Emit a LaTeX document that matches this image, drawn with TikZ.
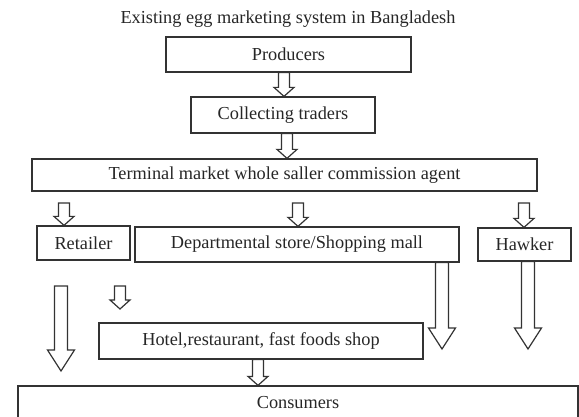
\documentclass[tikz,border=0pt]{standalone}
\usepackage{fontspec}
\setmainfont{Liberation Serif}
\usetikzlibrary{calc}

% hollow block arrow pointing down: top point, tip point, shaft half width, head half width, head length
\newcommand{\flowarrow}[5]{%
  \draw[arrowline] let \p1=(#1), \p2=(#2) in
    (\x1-#3,\y1) -- (\x1-#3,\y2+#5) -- (\x1-#4,\y2+#5) -- (\x1,\y2)
    -- (\x1+#4,\y2+#5) -- (\x1+#3,\y2+#5) -- (\x1+#3,\y1) -- cycle;}
\newcommand{\smallarrow}[2]{\flowarrow{#1}{#2}{5.5pt}{10pt}{9pt}}
\newcommand{\tallarrow}[2]{\flowarrow{#1}{#2}{6.5pt}{13.5pt}{21pt}}

\begin{document}
\begin{tikzpicture}[x=1pt,y=1pt,
  txt/.style={font=\fontsize{18.3}{22}\selectfont, text=black!85},
  box/.style={txt, draw=black!80, line width=1.2pt, inner sep=0pt},
  arrowline/.style={draw=black!80, line width=1.2pt, fill=white, line join=miter}]
  \useasboundingbox (0,0) rectangle (579,-417);

  % Title
  \node[txt] (title) at (288,-19) {Existing egg marketing system in Bangladesh};

  % Chain of boxes
  \node[box, minimum width=245, minimum height=35] (prod) at (288.5,-54.5) {Producers};
  \node[box, minimum width=184, minimum height=36] (coll) at (283,-115) {Collecting traders};
  \node[box, minimum width=505, minimum height=32] (term) at (284.5,-175) {Terminal market whole saller commission agent};
  \node[box, minimum width=93, minimum height=34] (ret) at (83.5,-243) {Retailer};
  \node[box, minimum width=324, minimum height=35] (dept) at (297,-244.5) {Departmental store/Shopping mall};
  \node[box, minimum width=93, minimum height=33] (hawk) at (524.5,-244.5) {Hawker};
  \node[box, minimum width=324, minimum height=36] (hotel) at (261,-341) {Hotel,restaurant, fast foods shop};
  \node[box, minimum width=560, minimum height=34] (cons) at (298,-403) {Consumers};

  % Free ends of the arrows
  \coordinate (r0) at (64,-203);
  \coordinate (d0) at (298,-203);
  \coordinate (h0) at (524,-203);
  \coordinate (s0) at (120,-286);
  \coordinate (s1) at (120,-309);
  \coordinate (l0) at (61,-286);
  \coordinate (l1) at (61,-371);
  \coordinate (l2) at (442,-349);
  \coordinate (l3) at (528,-349);

  % Arrows
  \smallarrow{$(prod.south)+(-4.5,0)$}{coll.north}
  \smallarrow{$(coll.south)+(4,0)$}{term.north}
  \smallarrow{r0}{ret.north}
  \smallarrow{d0}{dept.north}
  \smallarrow{h0}{hawk.north}
  \smallarrow{s0}{s1}
  \smallarrow{$(hotel.south)+(-3,0)$}{cons.north}
  \tallarrow{l0}{l1}
  \tallarrow{$(dept.south)+(145,0)$}{l2}
  \tallarrow{$(hawk.south)+(3.5,0)$}{l3}
\end{tikzpicture}
\end{document}
